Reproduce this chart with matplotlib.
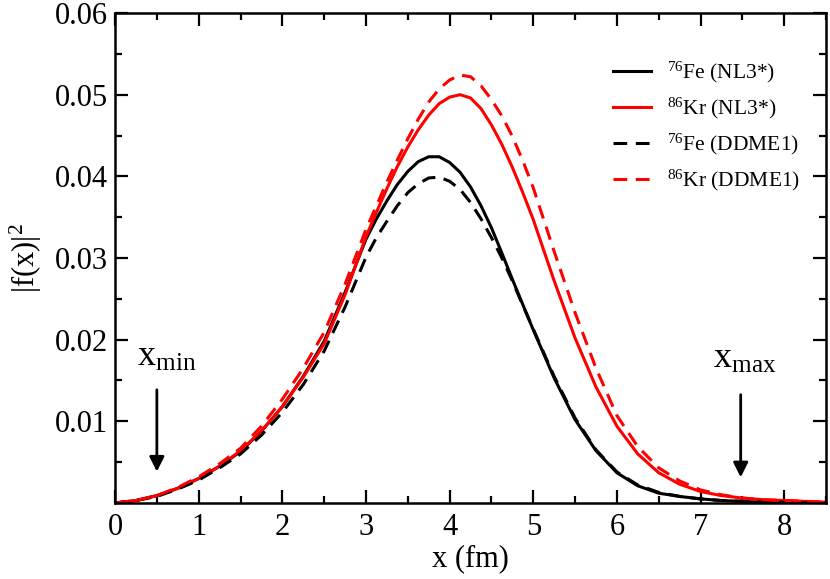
import matplotlib
matplotlib.use("Agg")
import matplotlib.pyplot as plt
from matplotlib.ticker import MultipleLocator

plt.rcParams['font.family'] = ['Liberation Serif', 'DejaVu Serif']
plt.rcParams['mathtext.fontset'] = 'custom'
plt.rcParams['mathtext.rm'] = 'Liberation Serif'
plt.rcParams['mathtext.it'] = 'Liberation Serif:italic'

# x grid (fm), denser around the peaks
x = [0.0, 0.25, 0.5, 0.75, 1.0, 1.25, 1.5, 1.75, 2.0, 2.25, 2.5, 2.75,
     3.0, 3.125, 3.25, 3.375, 3.5, 3.625, 3.75, 3.875, 4.0, 4.125, 4.25,
     4.375, 4.5, 4.625, 4.75, 4.875, 5.0,
     5.25, 5.5, 5.75, 6.0, 6.25, 6.5, 6.75, 7.0, 7.25, 7.5, 7.75, 8.0,
     8.25, 8.5]

fe_nl3 = [0.0, 0.0003, 0.0009, 0.0018, 0.0030, 0.0045, 0.0063, 0.0088, 0.0118,
          0.0155, 0.0198, 0.0258,
          0.0323, 0.0348, 0.0370, 0.0390, 0.0406, 0.0418, 0.0424, 0.0424,
          0.0417, 0.0405, 0.0387, 0.0364, 0.0337, 0.0306, 0.0274, 0.0243,
          0.0212,
          0.0153, 0.0102, 0.0064, 0.0037, 0.0021, 0.0012, 0.0008, 0.0005,
          0.0003, 0.0002, 0.0001, 0.0001, 0.00005, 0.00003]

kr_nl3 = [0.0, 0.0003, 0.0009, 0.0018, 0.0030, 0.0045, 0.0064, 0.0088, 0.0118,
          0.0154, 0.0195, 0.0255,
          0.0326, 0.0356, 0.0385, 0.0412, 0.0436, 0.0457, 0.0475, 0.0489,
          0.0497, 0.0500, 0.0496, 0.0483, 0.0463, 0.0439, 0.0411, 0.0380,
          0.0347,
          0.0272, 0.0202, 0.0142, 0.0094, 0.0060, 0.0037, 0.0023, 0.0014,
          0.0009, 0.0006, 0.0004, 0.0003, 0.0002, 0.0001]

fe_ddme1 = [0.0, 0.0003, 0.0008, 0.0017, 0.0028, 0.0043, 0.0060, 0.0083, 0.0111,
            0.0145, 0.0186, 0.0240,
            0.0301, 0.0325, 0.0345, 0.0364, 0.0380, 0.0391, 0.0398, 0.0399,
            0.0394, 0.0384, 0.0368, 0.0348, 0.0325, 0.0300, 0.0272, 0.0242,
            0.0213,
            0.0155, 0.0104, 0.0065, 0.0038, 0.0022, 0.0013, 0.0008, 0.0005,
            0.0003, 0.0002, 0.0001, 0.0001, 0.00005, 0.00003]

kr_ddme1 = [0.0, 0.0003, 0.0009, 0.0019, 0.0032, 0.0048, 0.0067, 0.0094, 0.0127,
            0.0165, 0.0209, 0.0268,
            0.0335, 0.0364, 0.0393, 0.0420, 0.0446, 0.0470, 0.0491, 0.0507,
            0.0518, 0.0524, 0.0522, 0.0511, 0.0494, 0.0474, 0.0449, 0.0419,
            0.0386,
            0.0308, 0.0233, 0.0165, 0.0107, 0.0069, 0.0043, 0.0027, 0.0016,
            0.0010, 0.0006, 0.0004, 0.0003, 0.0002, 0.0001]

labels = [r'$\mathregular{^{76}}$Fe (NL3*)', r'$\mathregular{^{86}}$Kr (NL3*)',
          r'$\mathregular{^{76}}$Fe (DDME1)', r'$\mathregular{^{86}}$Kr (DDME1)']

fig = plt.figure(figsize=(8.3, 5.79), dpi=100)
ax = fig.add_axes([0.1386, 0.1313, 0.8566, 0.8462])

lw = 2.2
dash = (4.5, 2.8)
ax.plot(x, fe_nl3, color='black', lw=lw, label=labels[0])
ax.plot(x, kr_nl3, color='#ff0000', lw=lw, label=labels[1])
ax.plot(x, fe_ddme1, color='black', lw=lw, dashes=dash, label=labels[2])
ax.plot(x, kr_ddme1, color='#ff0000', lw=lw, dashes=dash, label=labels[3])

ax.set_xlim(0, 8.5)
ax.set_ylim(0, 0.06)
ax.xaxis.set_major_locator(MultipleLocator(1))
ax.xaxis.set_minor_locator(MultipleLocator(0.5))
ax.set_yticks([0.01, 0.02, 0.03, 0.04, 0.05, 0.06])
ax.set_yticklabels(['0.01', '0.02', '0.03', '0.04', '0.05', '0.06'])
ax.yaxis.set_minor_locator(MultipleLocator(0.005))

for s in ax.spines.values():
    s.set_linewidth(1.8)
ax.tick_params(which='both', direction='in', top=True, right=True, width=1.6,
               labelsize=22)
ax.tick_params(which='major', length=9.5)
ax.tick_params(which='minor', length=5)
ax.tick_params(axis='x', pad=7)
ax.tick_params(axis='y', pad=5)

ax.set_xlabel('x (fm)', fontsize=22, labelpad=2)
ax.set_ylabel(r'|f(x)|$\mathregular{^{2}}$', fontsize=22, labelpad=8)

# x_min / x_max markers
ax.text(0.26, 0.0168, r'x$_{\mathregular{min}}$', fontsize=26, ha='left',
        va='baseline')
ax.annotate('', xy=(0.5, 0.0035), xytext=(0.5, 0.0142),
            arrowprops=dict(arrowstyle='-|>', color='black', lw=2,
                            mutation_scale=22))
ax.text(7.15, 0.0165, r'x$_{\mathregular{max}}$', fontsize=26, ha='left',
        va='baseline')
ax.annotate('', xy=(7.48, 0.0028), xytext=(7.48, 0.0136),
            arrowprops=dict(arrowstyle='-|>', color='black', lw=2,
                            mutation_scale=22))

ax.legend(loc='upper left', bbox_to_anchor=(0.700, 0.905), frameon=False,
          fontsize=15.5, handlelength=1.8, handletextpad=0.7,
          labelspacing=0.5, borderpad=0, borderaxespad=0)

fig.savefig('out.png', dpi=100)
plt.close(fig)
